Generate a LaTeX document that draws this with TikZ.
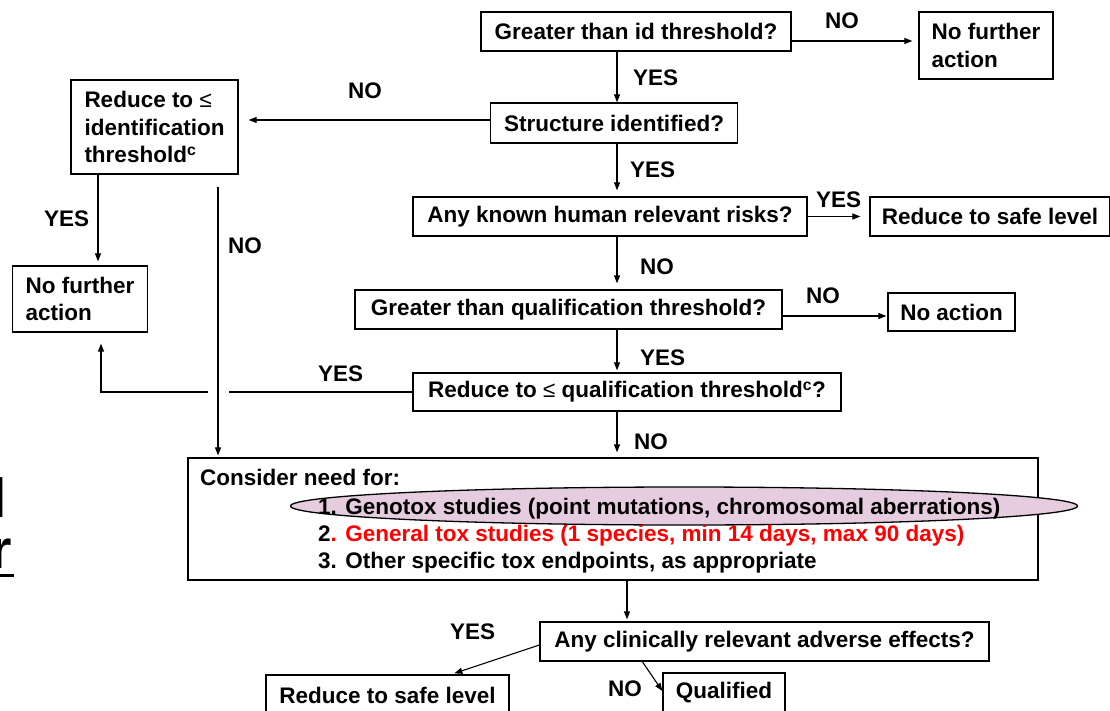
\documentclass[tikz,border=0pt]{standalone}
\usepackage{fontspec}
\setmainfont{Liberation Sans}
\usetikzlibrary{arrows.meta,calc}
\definecolor{mauve}{RGB}{229,204,222}
\newcommand{\leqsym}{{\mdseries ≤}}

\begin{document}
\begin{tikzpicture}[x=1pt,y=-1pt,
  font=\fontsize{22.5}{27.5}\selectfont\bfseries,
  box/.style={draw,line width=1.3pt,fill=white,inner sep=0pt,align=center},
  lbl/.style={inner sep=0pt,anchor=base west},
  frag/.style={inner sep=0pt,anchor=base east,font=\fontsize{55}{55}\selectfont\bfseries},
  arr/.style={line width=1.1pt,-{Triangle[length=8pt,width=6pt]}},
  ln/.style={line width=1.1pt}]

\useasboundingbox (0,0) rectangle (1110,711);
\fill[white] (0,0) rectangle (1110,711);
\clip (0,0) rectangle (1110,711);

% helper coordinates for connector columns and rows
\coordinate (xa) at (617,0);
\coordinate (xb) at (627,0);
\coordinate (xc) at (98,0);
\coordinate (xd) at (101,0);
\coordinate (xe) at (218,0);
\coordinate (ya) at (0,41);
\coordinate (yb) at (0,120);
\coordinate (yc) at (0,316);
\coordinate (nostart) at (218,187);
\coordinate (gapR) at (229,392);
\coordinate (gapL) at (208,392);

% text fragments at the left edge
\node[frag] (fragl) at (6.7,517) {l};
\node[frag] (fragr) at (12,568) {r};
\draw[line width=3pt] ([yshift=-7pt]fragr.base west) -- ([xshift=2pt,yshift=-7pt]fragr.base east);

% boxes
\node[box,minimum width=310pt,minimum height=39pt] (q1) at (636,31.5) {Greater than id threshold?};
\node[box,align=left,minimum width=134pt,minimum height=67pt] (nfa1) at (986,45.5) {No further\\action};
\node[box,minimum width=247pt,minimum height=40pt] (q2) at (614,123) {Structure identified?};
\node[box,align=left,minimum width=167pt,minimum height=94pt] (red1) at (154.5,127) {Reduce to \leqsym\\identification\\threshold\textsuperscript{c}};
\node[box,minimum width=394pt,minimum height=39pt] (q3) at (610,216.5) {Any known human relevant risks?};
\node[box,minimum width=240pt,minimum height=39pt] (safe1) at (990,216.5) {Reduce to safe level};
\node[box,minimum width=427pt,minimum height=39pt] (q4) at (568.5,309.5) {Greater than qualification threshold?};
\node[box,minimum width=127pt,minimum height=38pt] (noact) at (951.5,312) {No action};
\node[box,minimum width=428pt,minimum height=38pt] (q5) at (627,392) {Reduce to \leqsym{} qualification threshold\textsuperscript{c}?};
\node[box,align=left,minimum width=135pt,minimum height=66pt] (nfa2) at (80,299) {No further\\action};
\node[box,minimum width=850pt,minimum height=122pt] (consider) at (613,519) {};
\draw[fill=mauve,line width=1.3pt] (684,506) ellipse [x radius=393.5pt,y radius=19pt];
\node[lbl] (c0) at (200,485) {Consider need for:};
\node[lbl] (c1) at (318,514) {1. Genotox studies (point mutations, chromosomal aberrations)};
\node[lbl] (c2) at (318,541) {2\textcolor{red}{. General tox studies (1 species, min 14 days, max 90 days)}};
\node[lbl] (c3) at (318,568) {3. Other specific tox endpoints, as appropriate};
\node[box,minimum width=449pt,minimum height=39pt] (q6) at (764.5,641.5) {Any clinically relevant adverse effects?};
\node[box,minimum width=243pt,minimum height=40pt] (safe2) at (387.5,695) {Reduce to safe level};
\node[box,minimum width=122pt,minimum height=40pt] (qual) at (724,693) {Qualified};

% connectors
\draw[arr] (q1.south -| xa) -- (q2.north -| xa);
\draw[arr,shorten >=6pt] (q1.east |- ya) -- (nfa1.west |- ya);
\draw[arr,shorten >=10pt] (q2.west |- yb) -- (red1.east |- yb);
\draw[arr,shorten >=6pt] (q2.south -| xa) -- (q3.north -| xa);
\draw[arr,shorten >=9pt] (q3.east) -- (safe1.west);
\draw[arr,shorten >=6pt] (q3.south -| xa) -- (q4.north -| xa);
\draw[arr,shorten >=1pt] (q4.east |- yc) -- (noact.west |- yc);
\draw[arr,shorten >=2pt] (q4.south -| xa) -- (q5.north -| xa);
\draw[arr,shorten >=5pt] (q5.south -| xa) -- (consider.north -| xa);
\draw[arr,shorten >=2pt] (consider.south -| xb) -- (q6.north -| xb);
\draw[arr,shorten >=4pt] (red1.south -| xc) -- (nfa2.north -| xc);
\draw[arr,shorten >=2pt] (nostart) -- (consider.north -| xe);
\draw[ln] (q5.west) -- (gapR);
\draw[arr,shorten >=11pt] (gapL) -- (gapL -| xd) -- (nfa2.south -| xd);
\draw[arr] ($(q6.west)+(0,3.5)$) -- ($(safe2.north west)+(189,-1)$);
\draw[arr] ($(q6.south west)+(103,0)$) -- ($(qual.west)+(0,-2)$);

% branch labels
\node[lbl] (l1) at (825,29) {NO};
\node[lbl] (l2) at (633,86) {YES};
\node[lbl] (l3) at (348,99) {NO};
\node[lbl] (l4) at (630,178) {YES};
\node[lbl] (l5) at (816,208) {YES};
\node[lbl] (l6) at (44,227) {YES};
\node[lbl] (l7) at (228,254) {NO};
\node[lbl] (l8) at (640,274) {NO};
\node[lbl] (l9) at (806,303) {NO};
\node[lbl] (l10) at (640,365) {YES};
\node[lbl] (l11) at (318,381) {YES};
\node[lbl] (l12) at (634,449) {NO};
\node[lbl] (l13) at (450,639) {YES};
\node[lbl] (l14) at (608,696) {NO};
\end{tikzpicture}
\end{document}
